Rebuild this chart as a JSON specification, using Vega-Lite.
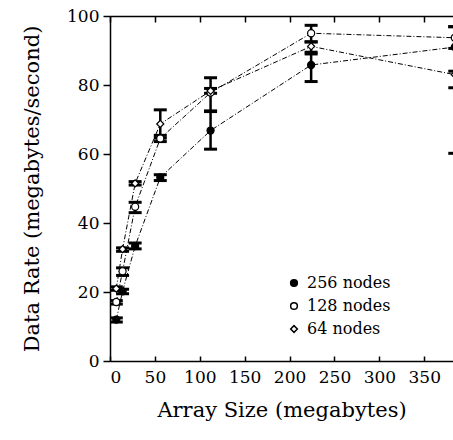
{
  "$schema": "https://vega.github.io/schema/vega-lite/v6.json",
  "width": 343,
  "height": 345,
  "autosize": "none",
  "padding": {"left": 110, "top": 16, "right": 0, "bottom": 79},
  "background": "white",
  "config": {
    "view": {"stroke": null},
    "font": "DejaVu Serif",
    "axis": {
      "domainColor": "black", "tickColor": "black", "labelColor": "black", "titleColor": "black",
      "labelFont": "DejaVu Serif", "titleFont": "DejaVu Serif", "grid": false,
      "labelFontSize": 17, "titleFontSize": 21, "titleFontWeight": "normal",
      "domainWidth": 1.5, "tickWidth": 1.5
    }
  },
  "data": {
    "values": [
      {"size": 7, "series": "256 nodes", "rate": 12.0, "lo": 11.3, "hi": 12.5},
      {"size": 14, "series": "256 nodes", "rate": 20.2, "lo": 19.5, "hi": 20.8},
      {"size": 28, "series": "256 nodes", "rate": 33.3, "lo": 32.5, "hi": 34.2},
      {"size": 56, "series": "256 nodes", "rate": 53.2, "lo": 52.3, "hi": 54.0},
      {"size": 112, "series": "256 nodes", "rate": 66.8, "lo": 61.4, "hi": 72.3},
      {"size": 224, "series": "256 nodes", "rate": 85.8, "lo": 81.0, "hi": 89.0},
      {"size": 384, "series": "256 nodes", "rate": 91.0, "lo": 60.2, "hi": 96.9},
      {"size": 7, "series": "128 nodes", "rate": 17.1, "lo": 16.5, "hi": 17.5},
      {"size": 14, "series": "128 nodes", "rate": 26.0, "lo": 24.8, "hi": 27.0},
      {"size": 28, "series": "128 nodes", "rate": 44.7, "lo": 43.0, "hi": 46.0},
      {"size": 56, "series": "128 nodes", "rate": 64.5, "lo": 63.6, "hi": 65.4},
      {"size": 112, "series": "128 nodes", "rate": 77.8, "lo": 72.5, "hi": 82.1},
      {"size": 224, "series": "128 nodes", "rate": 95.0, "lo": 92.5, "hi": 97.3},
      {"size": 384, "series": "128 nodes", "rate": 93.7, "lo": 90.6, "hi": 96.9},
      {"size": 7, "series": "64 nodes", "rate": 21.0, "lo": 20.5, "hi": 21.5},
      {"size": 14, "series": "64 nodes", "rate": 32.4, "lo": 31.8, "hi": 32.8},
      {"size": 28, "series": "64 nodes", "rate": 51.5, "lo": 51.0, "hi": 52.0},
      {"size": 56, "series": "64 nodes", "rate": 68.7, "lo": 64.6, "hi": 72.8},
      {"size": 112, "series": "64 nodes", "rate": 78.3, "lo": 77.6, "hi": 79.0},
      {"size": 224, "series": "64 nodes", "rate": 91.2, "lo": 89.5, "hi": 92.5},
      {"size": 384, "series": "64 nodes", "rate": 83.0, "lo": 79.2, "hi": 84.0}
    ]
  },
  "resolve": {"axis": {"x": "independent"}},
  "layer": [
    {
      "mark": {"type": "line", "clip": true, "color": "black", "strokeWidth": 1, "strokeDash": [5, 2, 1, 2]},
      "encoding": {
        "x": {"field": "size", "type": "quantitative", "scale": {"domain": [0, 382], "nice": false},
          "axis": {"orient": "bottom", "values": [0, 50, 100, 150, 200, 250, 300, 350], "tickSize": -5,
            "labelPadding": 13, "title": "Array Size (megabytes)", "titlePadding": 14}},
        "y": {"field": "rate", "type": "quantitative", "scale": {"domain": [0, 100], "nice": false},
          "axis": {"orient": "left", "values": [0, 20, 40, 60, 80, 100], "tickSize": 7, "labelPadding": 4,
            "title": "Data Rate (megabytes/second)", "titlePadding": 24}},
        "detail": {"field": "series"}
      }
    },
    {
      "mark": {"type": "rule", "clip": true, "color": "black", "strokeWidth": 2.5, "opacity": 1},
      "encoding": {
        "x": {"field": "size", "type": "quantitative",
          "axis": {"orient": "top", "values": [0, 50, 100, 150, 200, 250, 300, 350], "tickSize": -6,
            "labels": false, "title": null}},
        "y": {"field": "lo", "type": "quantitative"},
        "y2": {"field": "hi"}
      }
    },
    {
      "mark": {"type": "tick", "clip": true, "color": "black", "orient": "horizontal", "size": 13, "thickness": 3, "opacity": 1},
      "encoding": {
        "x": {"field": "size", "type": "quantitative", "axis": null},
        "y": {"field": "lo", "type": "quantitative"}
      }
    },
    {
      "mark": {"type": "tick", "clip": true, "color": "black", "orient": "horizontal", "size": 13, "thickness": 3, "opacity": 1},
      "encoding": {
        "x": {"field": "size", "type": "quantitative", "axis": null},
        "y": {"field": "hi", "type": "quantitative"}
      }
    },
    {
      "mark": {"type": "point", "clip": true, "stroke": "black", "strokeWidth": 1.2, "size": 50, "opacity": 1},
      "encoding": {
        "x": {"field": "size", "type": "quantitative", "axis": null},
        "y": {"field": "rate", "type": "quantitative"},
        "shape": {"field": "series", "type": "nominal",
          "scale": {"domain": ["256 nodes", "128 nodes", "64 nodes"], "range": ["circle", "circle", "diamond"]},
          "legend": {"orient": "none", "legendX": 176, "legendY": 259, "title": null, "labelFont": "DejaVu Serif",
            "labelFontSize": 16, "labelColor": "black", "symbolSize": 45, "symbolOpacity": 1,
            "rowPadding": 7, "labelOffset": 5, "padding": 0,
            "encode": {"symbols": {"update": {
              "fill": {"signal": "datum.value === '256 nodes' ? 'black' : 'white'"},
              "stroke": {"value": "black"}, "strokeWidth": {"value": 1.2}, "opacity": {"value": 1}}}}}},
        "fill": {"field": "series", "type": "nominal",
          "scale": {"domain": ["256 nodes", "128 nodes", "64 nodes"], "range": ["black", "white", "white"]},
          "legend": null}
      }
    }
  ]
}
